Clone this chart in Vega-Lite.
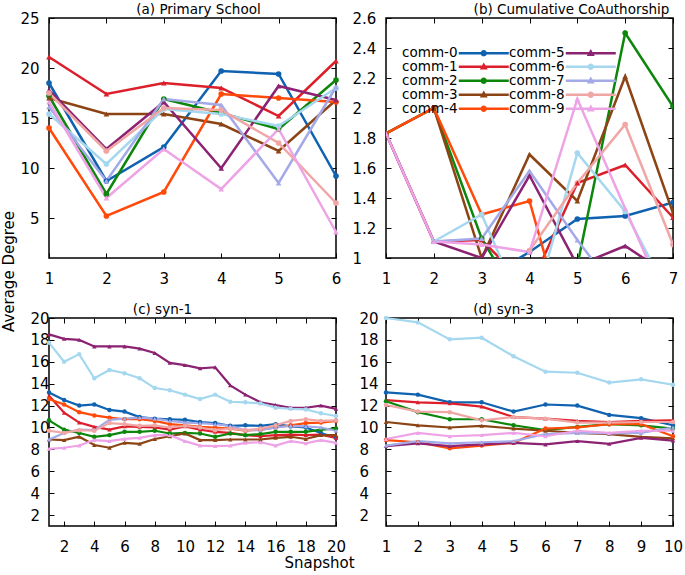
{
  "$schema": "https://vega.github.io/schema/vega-lite/v6.json",
  "background": "white",
  "padding": {"left": 0, "top": 1, "right": 5, "bottom": 5},
  "columns": 2,
  "spacing": {"row": 60, "column": 50},
  "bounds": "flush",
  "resolve": {
    "scale": {"x": "independent", "y": "independent", "color": "independent", "shape": "independent"},
    "axis": {"x": "independent", "y": "independent"},
    "legend": {"color": "independent", "shape": "independent"}
  },
  "config": {
    "font": "DejaVu Sans",
    "view": {"stroke": "black", "strokeWidth": 1.5},
    "axis": {
      "domain": false, "grid": false, "tickColor": "black", "tickSize": -5, "tickWidth": 1,
      "labelFont": "DejaVu Sans", "labelFontSize": 15, "labelColor": "black",
      "labelFlush": false, "labelOverlap": false,
      "titleFont": "DejaVu Sans", "titleFontSize": 15, "titleFontWeight": "normal", "titleColor": "black"
    },
    "title": {"font": "DejaVu Sans", "fontSize": 13.5, "fontWeight": "normal", "color": "black", "offset": -5}
  },
  "datasets": {
    "a": [
      {"comm":"comm-0","x":1,"y":18.5},{"comm":"comm-0","x":2,"y":8.7},{"comm":"comm-0","x":3,"y":12.1},{"comm":"comm-0","x":4,"y":19.7},{"comm":"comm-0","x":5,"y":19.4},{"comm":"comm-0","x":6,"y":9.2},
      {"comm":"comm-1","x":1,"y":21.1},{"comm":"comm-1","x":2,"y":17.4},{"comm":"comm-1","x":3,"y":18.5},{"comm":"comm-1","x":4,"y":18.0},{"comm":"comm-1","x":5,"y":15.2},{"comm":"comm-1","x":6,"y":20.7},
      {"comm":"comm-2","x":1,"y":17.2},{"comm":"comm-2","x":2,"y":7.4},{"comm":"comm-2","x":3,"y":16.9},{"comm":"comm-2","x":4,"y":15.5},{"comm":"comm-2","x":5,"y":13.9},{"comm":"comm-2","x":6,"y":18.8},
      {"comm":"comm-3","x":1,"y":17.0},{"comm":"comm-3","x":2,"y":15.4},{"comm":"comm-3","x":3,"y":15.4},{"comm":"comm-3","x":4,"y":14.4},{"comm":"comm-3","x":5,"y":11.7},{"comm":"comm-3","x":6,"y":16.8},
      {"comm":"comm-4","x":1,"y":14.0},{"comm":"comm-4","x":2,"y":5.2},{"comm":"comm-4","x":3,"y":7.6},{"comm":"comm-4","x":4,"y":17.4},{"comm":"comm-4","x":5,"y":17.0},{"comm":"comm-4","x":6,"y":16.6},
      {"comm":"comm-5","x":1,"y":17.8},{"comm":"comm-5","x":2,"y":11.9},{"comm":"comm-5","x":3,"y":16.6},{"comm":"comm-5","x":4,"y":9.97},{"comm":"comm-5","x":5,"y":18.2},{"comm":"comm-5","x":6,"y":16.8},
      {"comm":"comm-6","x":1,"y":15.4},{"comm":"comm-6","x":2,"y":10.4},{"comm":"comm-6","x":3,"y":15.9},{"comm":"comm-6","x":4,"y":15.4},{"comm":"comm-6","x":5,"y":14.2},{"comm":"comm-6","x":6,"y":18.0},
      {"comm":"comm-7","x":1,"y":16.1},{"comm":"comm-7","x":2,"y":8.7},{"comm":"comm-7","x":3,"y":16.9},{"comm":"comm-7","x":4,"y":16.3},{"comm":"comm-7","x":5,"y":8.5},{"comm":"comm-7","x":6,"y":18.1},
      {"comm":"comm-8","x":1,"y":17.5},{"comm":"comm-8","x":2,"y":11.7},{"comm":"comm-8","x":3,"y":16.0},{"comm":"comm-8","x":4,"y":15.8},{"comm":"comm-8","x":5,"y":12.5},{"comm":"comm-8","x":6,"y":6.5},
      {"comm":"comm-9","x":1,"y":16.6},{"comm":"comm-9","x":2,"y":7.0},{"comm":"comm-9","x":3,"y":11.9},{"comm":"comm-9","x":4,"y":7.9},{"comm":"comm-9","x":5,"y":13.9},{"comm":"comm-9","x":6,"y":3.6}
    ],
    "b": [
      {"comm":"comm-0","x":3,"y":0.85},{"comm":"comm-0","x":4,"y":1.04},{"comm":"comm-0","x":5,"y":1.26},{"comm":"comm-0","x":6,"y":1.28},{"comm":"comm-0","x":7,"y":1.37},
      {"comm":"comm-1","x":1,"y":1.83},{"comm":"comm-1","x":2,"y":1.11},{"comm":"comm-1","x":3,"y":1.12},{"comm":"comm-1","x":4,"y":0.8},{"comm":"comm-1","x":5,"y":1.5},{"comm":"comm-1","x":6,"y":1.62},{"comm":"comm-1","x":7,"y":1.27},
      {"comm":"comm-2","x":1,"y":1.83},{"comm":"comm-2","x":2,"y":2.0},{"comm":"comm-2","x":3,"y":1.13},{"comm":"comm-2","x":4,"y":0.6},{"comm":"comm-2","x":5,"y":0.95},{"comm":"comm-2","x":6,"y":2.5},{"comm":"comm-2","x":7,"y":2.01},
      {"comm":"comm-3","x":1,"y":1.83},{"comm":"comm-3","x":2,"y":2.0},{"comm":"comm-3","x":3,"y":1.0},{"comm":"comm-3","x":4,"y":1.69},{"comm":"comm-3","x":5,"y":1.38},{"comm":"comm-3","x":6,"y":2.21},{"comm":"comm-3","x":7,"y":1.3},
      {"comm":"comm-4","x":1,"y":1.83},{"comm":"comm-4","x":2,"y":2.0},{"comm":"comm-4","x":3,"y":1.29},{"comm":"comm-4","x":4,"y":1.38},{"comm":"comm-4","x":5,"y":0.25},
      {"comm":"comm-5","x":1,"y":1.83},{"comm":"comm-5","x":2,"y":1.11},{"comm":"comm-5","x":3,"y":1.0},{"comm":"comm-5","x":4,"y":1.55},{"comm":"comm-5","x":5,"y":0.95},{"comm":"comm-5","x":6,"y":1.08},{"comm":"comm-5","x":7,"y":0.87},
      {"comm":"comm-6","x":2,"y":1.11},{"comm":"comm-6","x":3,"y":1.29},{"comm":"comm-6","x":4,"y":0.56},{"comm":"comm-6","x":5,"y":1.7},{"comm":"comm-6","x":6,"y":1.31},{"comm":"comm-6","x":7,"y":0.7},
      {"comm":"comm-7","x":2,"y":1.11},{"comm":"comm-7","x":3,"y":1.13},{"comm":"comm-7","x":4,"y":1.58},{"comm":"comm-7","x":5,"y":1.12},{"comm":"comm-7","x":6,"y":0.7},
      {"comm":"comm-8","x":4,"y":1.05},{"comm":"comm-8","x":5,"y":1.5},{"comm":"comm-8","x":6,"y":1.89},{"comm":"comm-8","x":7,"y":1.09},
      {"comm":"comm-9","x":1,"y":1.83},{"comm":"comm-9","x":2,"y":1.11},{"comm":"comm-9","x":3,"y":1.09},{"comm":"comm-9","x":4,"y":1.04},{"comm":"comm-9","x":5,"y":2.06},{"comm":"comm-9","x":6,"y":1.33},{"comm":"comm-9","x":7,"y":0.6}
    ],
    "c": [
      {"comm":"comm-0","x":1,"y":13.2},{"comm":"comm-0","x":2,"y":12.5},{"comm":"comm-0","x":3,"y":12.0},{"comm":"comm-0","x":4,"y":12.1},{"comm":"comm-0","x":5,"y":11.6},{"comm":"comm-0","x":6,"y":11.45},{"comm":"comm-0","x":7,"y":10.95},{"comm":"comm-0","x":8,"y":10.8},{"comm":"comm-0","x":9,"y":10.75},{"comm":"comm-0","x":10,"y":10.7},{"comm":"comm-0","x":11,"y":10.5},{"comm":"comm-0","x":12,"y":10.4},{"comm":"comm-0","x":13,"y":10.15},{"comm":"comm-0","x":14,"y":10.2},{"comm":"comm-0","x":15,"y":10.15},{"comm":"comm-0","x":16,"y":10.3},{"comm":"comm-0","x":17,"y":10.1},{"comm":"comm-0","x":18,"y":10.0},{"comm":"comm-0","x":19,"y":9.5},{"comm":"comm-0","x":20,"y":9.05},
      {"comm":"comm-1","x":1,"y":12.9},{"comm":"comm-1","x":2,"y":11.35},{"comm":"comm-1","x":3,"y":10.45},{"comm":"comm-1","x":4,"y":10.05},{"comm":"comm-1","x":5,"y":9.8},{"comm":"comm-1","x":6,"y":10.1},{"comm":"comm-1","x":7,"y":10.05},{"comm":"comm-1","x":8,"y":10.0},{"comm":"comm-1","x":9,"y":9.8},{"comm":"comm-1","x":10,"y":10.1},{"comm":"comm-1","x":11,"y":9.8},{"comm":"comm-1","x":12,"y":9.6},{"comm":"comm-1","x":13,"y":9.5},{"comm":"comm-1","x":14,"y":9.3},{"comm":"comm-1","x":15,"y":9.2},{"comm":"comm-1","x":16,"y":9.3},{"comm":"comm-1","x":17,"y":9.35},{"comm":"comm-1","x":18,"y":9.3},{"comm":"comm-1","x":19,"y":9.35},{"comm":"comm-1","x":20,"y":9.05},
      {"comm":"comm-2","x":1,"y":10.65},{"comm":"comm-2","x":2,"y":9.8},{"comm":"comm-2","x":3,"y":9.5},{"comm":"comm-2","x":4,"y":9.15},{"comm":"comm-2","x":5,"y":9.3},{"comm":"comm-2","x":6,"y":9.6},{"comm":"comm-2","x":7,"y":9.6},{"comm":"comm-2","x":8,"y":9.7},{"comm":"comm-2","x":9,"y":9.45},{"comm":"comm-2","x":10,"y":9.5},{"comm":"comm-2","x":11,"y":9.45},{"comm":"comm-2","x":12,"y":9.15},{"comm":"comm-2","x":13,"y":9.45},{"comm":"comm-2","x":14,"y":9.3},{"comm":"comm-2","x":15,"y":9.4},{"comm":"comm-2","x":16,"y":9.6},{"comm":"comm-2","x":17,"y":9.6},{"comm":"comm-2","x":18,"y":9.6},{"comm":"comm-2","x":19,"y":9.8},{"comm":"comm-2","x":20,"y":9.9},
      {"comm":"comm-3","x":1,"y":8.9},{"comm":"comm-3","x":2,"y":8.85},{"comm":"comm-3","x":3,"y":9.15},{"comm":"comm-3","x":4,"y":8.4},{"comm":"comm-3","x":5,"y":8.15},{"comm":"comm-3","x":6,"y":8.6},{"comm":"comm-3","x":7,"y":8.5},{"comm":"comm-3","x":8,"y":8.95},{"comm":"comm-3","x":9,"y":9.2},{"comm":"comm-3","x":10,"y":9.45},{"comm":"comm-3","x":11,"y":8.85},{"comm":"comm-3","x":12,"y":8.85},{"comm":"comm-3","x":13,"y":8.9},{"comm":"comm-3","x":14,"y":8.9},{"comm":"comm-3","x":15,"y":8.9},{"comm":"comm-3","x":16,"y":9.05},{"comm":"comm-3","x":17,"y":9.15},{"comm":"comm-3","x":18,"y":8.95},{"comm":"comm-3","x":19,"y":9.3},{"comm":"comm-3","x":20,"y":9.3},
      {"comm":"comm-4","x":1,"y":12.6},{"comm":"comm-4","x":2,"y":12.1},{"comm":"comm-4","x":3,"y":11.4},{"comm":"comm-4","x":4,"y":11.1},{"comm":"comm-4","x":5,"y":10.9},{"comm":"comm-4","x":6,"y":10.75},{"comm":"comm-4","x":7,"y":10.75},{"comm":"comm-4","x":8,"y":10.6},{"comm":"comm-4","x":9,"y":10.3},{"comm":"comm-4","x":10,"y":10.2},{"comm":"comm-4","x":11,"y":10.05},{"comm":"comm-4","x":12,"y":10.0},{"comm":"comm-4","x":13,"y":9.9},{"comm":"comm-4","x":14,"y":9.7},{"comm":"comm-4","x":15,"y":9.8},{"comm":"comm-4","x":16,"y":10.0},{"comm":"comm-4","x":17,"y":10.2},{"comm":"comm-4","x":18,"y":10.4},{"comm":"comm-4","x":19,"y":10.45},{"comm":"comm-4","x":20,"y":10.6},
      {"comm":"comm-5","x":1,"y":18.5},{"comm":"comm-5","x":2,"y":18.1},{"comm":"comm-5","x":3,"y":18.0},{"comm":"comm-5","x":4,"y":17.4},{"comm":"comm-5","x":5,"y":17.4},{"comm":"comm-5","x":6,"y":17.4},{"comm":"comm-5","x":7,"y":17.2},{"comm":"comm-5","x":8,"y":16.8},{"comm":"comm-5","x":9,"y":15.9},{"comm":"comm-5","x":10,"y":15.7},{"comm":"comm-5","x":11,"y":15.4},{"comm":"comm-5","x":12,"y":15.5},{"comm":"comm-5","x":13,"y":13.85},{"comm":"comm-5","x":14,"y":13.0},{"comm":"comm-5","x":15,"y":12.3},{"comm":"comm-5","x":16,"y":12.05},{"comm":"comm-5","x":17,"y":11.8},{"comm":"comm-5","x":18,"y":11.8},{"comm":"comm-5","x":19,"y":12.0},{"comm":"comm-5","x":20,"y":11.7},
      {"comm":"comm-6","x":1,"y":17.75},{"comm":"comm-6","x":2,"y":16.0},{"comm":"comm-6","x":3,"y":16.7},{"comm":"comm-6","x":4,"y":14.5},{"comm":"comm-6","x":5,"y":15.25},{"comm":"comm-6","x":6,"y":14.95},{"comm":"comm-6","x":7,"y":14.5},{"comm":"comm-6","x":8,"y":13.6},{"comm":"comm-6","x":9,"y":13.4},{"comm":"comm-6","x":10,"y":13.0},{"comm":"comm-6","x":11,"y":12.6},{"comm":"comm-6","x":12,"y":13.0},{"comm":"comm-6","x":13,"y":12.35},{"comm":"comm-6","x":14,"y":12.3},{"comm":"comm-6","x":15,"y":12.2},{"comm":"comm-6","x":16,"y":11.8},{"comm":"comm-6","x":17,"y":11.7},{"comm":"comm-6","x":18,"y":11.65},{"comm":"comm-6","x":19,"y":11.3},{"comm":"comm-6","x":20,"y":11.05},
      {"comm":"comm-7","x":1,"y":8.9},{"comm":"comm-7","x":2,"y":9.5},{"comm":"comm-7","x":3,"y":9.8},{"comm":"comm-7","x":4,"y":9.75},{"comm":"comm-7","x":5,"y":10.7},{"comm":"comm-7","x":6,"y":10.8},{"comm":"comm-7","x":7,"y":10.9},{"comm":"comm-7","x":8,"y":10.8},{"comm":"comm-7","x":9,"y":10.6},{"comm":"comm-7","x":10,"y":10.45},{"comm":"comm-7","x":11,"y":10.4},{"comm":"comm-7","x":12,"y":10.3},{"comm":"comm-7","x":13,"y":10.15},{"comm":"comm-7","x":14,"y":9.75},{"comm":"comm-7","x":15,"y":9.75},{"comm":"comm-7","x":16,"y":10.0},{"comm":"comm-7","x":17,"y":10.15},{"comm":"comm-7","x":18,"y":10.1},{"comm":"comm-7","x":19,"y":10.0},{"comm":"comm-7","x":20,"y":9.7},
      {"comm":"comm-8","x":1,"y":9.7},{"comm":"comm-8","x":2,"y":9.5},{"comm":"comm-8","x":3,"y":9.75},{"comm":"comm-8","x":4,"y":9.7},{"comm":"comm-8","x":5,"y":10.4},{"comm":"comm-8","x":6,"y":10.3},{"comm":"comm-8","x":7,"y":10.15},{"comm":"comm-8","x":8,"y":10.2},{"comm":"comm-8","x":9,"y":10.0},{"comm":"comm-8","x":10,"y":10.15},{"comm":"comm-8","x":11,"y":10.0},{"comm":"comm-8","x":12,"y":9.75},{"comm":"comm-8","x":13,"y":9.9},{"comm":"comm-8","x":14,"y":9.75},{"comm":"comm-8","x":15,"y":9.9},{"comm":"comm-8","x":16,"y":10.2},{"comm":"comm-8","x":17,"y":10.6},{"comm":"comm-8","x":18,"y":10.75},{"comm":"comm-8","x":19,"y":10.6},{"comm":"comm-8","x":20,"y":10.65},
      {"comm":"comm-9","x":1,"y":8.05},{"comm":"comm-9","x":2,"y":8.15},{"comm":"comm-9","x":3,"y":8.35},{"comm":"comm-9","x":4,"y":8.85},{"comm":"comm-9","x":5,"y":8.75},{"comm":"comm-9","x":6,"y":8.95},{"comm":"comm-9","x":7,"y":9.05},{"comm":"comm-9","x":8,"y":9.3},{"comm":"comm-9","x":9,"y":9.3},{"comm":"comm-9","x":10,"y":8.75},{"comm":"comm-9","x":11,"y":8.35},{"comm":"comm-9","x":12,"y":8.3},{"comm":"comm-9","x":13,"y":8.35},{"comm":"comm-9","x":14,"y":8.6},{"comm":"comm-9","x":15,"y":8.65},{"comm":"comm-9","x":16,"y":8.35},{"comm":"comm-9","x":17,"y":8.75},{"comm":"comm-9","x":18,"y":8.55},{"comm":"comm-9","x":19,"y":8.85},{"comm":"comm-9","x":20,"y":8.6}
    ],
    "d": [
      {"comm":"comm-0","x":1,"y":13.2},{"comm":"comm-0","x":2,"y":13.0},{"comm":"comm-0","x":3,"y":12.3},{"comm":"comm-0","x":4,"y":12.3},{"comm":"comm-0","x":5,"y":11.45},{"comm":"comm-0","x":6,"y":12.1},{"comm":"comm-0","x":7,"y":12.0},{"comm":"comm-0","x":8,"y":11.15},{"comm":"comm-0","x":9,"y":10.85},{"comm":"comm-0","x":10,"y":10.2},
      {"comm":"comm-1","x":1,"y":12.5},{"comm":"comm-1","x":2,"y":12.3},{"comm":"comm-1","x":3,"y":12.2},{"comm":"comm-1","x":4,"y":11.9},{"comm":"comm-1","x":5,"y":10.95},{"comm":"comm-1","x":6,"y":10.8},{"comm":"comm-1","x":7,"y":10.6},{"comm":"comm-1","x":8,"y":10.5},{"comm":"comm-1","x":9,"y":10.6},{"comm":"comm-1","x":10,"y":10.65},
      {"comm":"comm-2","x":1,"y":12.4},{"comm":"comm-2","x":2,"y":11.4},{"comm":"comm-2","x":3,"y":10.75},{"comm":"comm-2","x":4,"y":10.75},{"comm":"comm-2","x":5,"y":10.2},{"comm":"comm-2","x":6,"y":9.75},{"comm":"comm-2","x":7,"y":10.05},{"comm":"comm-2","x":8,"y":10.3},{"comm":"comm-2","x":9,"y":10.2},{"comm":"comm-2","x":10,"y":9.9},
      {"comm":"comm-3","x":1,"y":10.5},{"comm":"comm-3","x":2,"y":10.2},{"comm":"comm-3","x":3,"y":10.0},{"comm":"comm-3","x":4,"y":10.15},{"comm":"comm-3","x":5,"y":9.9},{"comm":"comm-3","x":6,"y":9.7},{"comm":"comm-3","x":7,"y":9.5},{"comm":"comm-3","x":8,"y":9.4},{"comm":"comm-3","x":9,"y":9.15},{"comm":"comm-3","x":10,"y":9.0},
      {"comm":"comm-4","x":1,"y":8.85},{"comm":"comm-4","x":2,"y":8.65},{"comm":"comm-4","x":3,"y":8.1},{"comm":"comm-4","x":4,"y":8.35},{"comm":"comm-4","x":5,"y":8.6},{"comm":"comm-4","x":6,"y":9.9},{"comm":"comm-4","x":7,"y":10.0},{"comm":"comm-4","x":8,"y":10.3},{"comm":"comm-4","x":9,"y":10.3},{"comm":"comm-4","x":10,"y":9.2},
      {"comm":"comm-5","x":1,"y":8.3},{"comm":"comm-5","x":2,"y":8.55},{"comm":"comm-5","x":3,"y":8.3},{"comm":"comm-5","x":4,"y":8.45},{"comm":"comm-5","x":5,"y":8.6},{"comm":"comm-5","x":6,"y":8.45},{"comm":"comm-5","x":7,"y":8.75},{"comm":"comm-5","x":8,"y":8.5},{"comm":"comm-5","x":9,"y":9.05},{"comm":"comm-5","x":10,"y":8.8},
      {"comm":"comm-6","x":1,"y":20.0},{"comm":"comm-6","x":2,"y":19.6},{"comm":"comm-6","x":3,"y":18.05},{"comm":"comm-6","x":4,"y":18.2},{"comm":"comm-6","x":5,"y":16.5},{"comm":"comm-6","x":6,"y":15.1},{"comm":"comm-6","x":7,"y":15.0},{"comm":"comm-6","x":8,"y":14.1},{"comm":"comm-6","x":9,"y":14.4},{"comm":"comm-6","x":10,"y":13.9},
      {"comm":"comm-7","x":1,"y":8.35},{"comm":"comm-7","x":2,"y":8.75},{"comm":"comm-7","x":3,"y":8.55},{"comm":"comm-7","x":4,"y":8.65},{"comm":"comm-7","x":5,"y":8.75},{"comm":"comm-7","x":6,"y":9.4},{"comm":"comm-7","x":7,"y":9.5},{"comm":"comm-7","x":8,"y":9.45},{"comm":"comm-7","x":9,"y":9.5},{"comm":"comm-7","x":10,"y":10.0},
      {"comm":"comm-8","x":1,"y":12.05},{"comm":"comm-8","x":2,"y":11.45},{"comm":"comm-8","x":3,"y":11.4},{"comm":"comm-8","x":4,"y":10.65},{"comm":"comm-8","x":5,"y":10.95},{"comm":"comm-8","x":6,"y":10.8},{"comm":"comm-8","x":7,"y":10.45},{"comm":"comm-8","x":8,"y":10.45},{"comm":"comm-8","x":9,"y":10.5},{"comm":"comm-8","x":10,"y":10.5},
      {"comm":"comm-9","x":1,"y":8.95},{"comm":"comm-9","x":2,"y":9.5},{"comm":"comm-9","x":3,"y":9.2},{"comm":"comm-9","x":4,"y":9.3},{"comm":"comm-9","x":5,"y":9.5},{"comm":"comm-9","x":6,"y":9.2},{"comm":"comm-9","x":7,"y":9.7},{"comm":"comm-9","x":8,"y":9.5},{"comm":"comm-9","x":9,"y":9.7},{"comm":"comm-9","x":10,"y":9.7}
    ]
  },
  "concat": [
    {
      "width": 287, "height": 240,
      "title": {"text": "(a) Primary School", "dx": 6},
      "data": {"name": "a"},
      "encoding": {
        "color": {"field": "comm", "type": "nominal", "legend": null,
          "scale": {"domain": ["comm-0","comm-1","comm-2","comm-3","comm-4","comm-5","comm-6","comm-7","comm-8","comm-9"], "range": ["#0f62b0","#dc1f2a","#0c870c","#8c4415","#ff4a0a","#8b2272","#a5d8ef","#a4a9e8","#f1a6a6","#eda3e6"]}}
      },
      "layer": [
        {"mark": {"type": "line", "strokeWidth": 2.5},
         "encoding": {
           "x": {"field": "x", "type": "quantitative", "title": null, "scale": {"domain": [1, 6], "nice": false, "zero": false}, "axis": {"values": [1, 2, 3, 4, 5, 6], "labelPadding": 18, "format": "d"}},
           "y": {"field": "y", "type": "quantitative", "title": "Average Degree", "scale": {"domain": [1, 25], "nice": false, "zero": false}, "axis": {"values": [5, 10, 15, 20, 25], "labelAlign": "right", "labelPadding": 15, "format": "d", "titleX": -36, "titleY": 253, "titleAlign": "center", "titleBaseline": "alphabetic", "titleAngle": 270}}}},
        {"mark": {"type": "point", "filled": true, "size": 32, "opacity": 1},
         "encoding": {
           "x": {"field": "x", "type": "quantitative", "axis": null},
           "y": {"field": "y", "type": "quantitative", "axis": null},
           "shape": {"field": "comm", "type": "nominal", "legend": null, "scale": {"domain": ["comm-0","comm-1","comm-2","comm-3","comm-4","comm-5","comm-6","comm-7","comm-8","comm-9"], "range": ["circle","triangle-up","circle","triangle-up","circle","triangle-up","circle","triangle-up","circle","triangle-up"]}}}},
        {"mark": {"type": "point", "opacity": 0},
         "encoding": {
           "x": {"field": "x", "type": "quantitative", "title": null, "axis": {"orient": "top", "values": [1, 2, 3, 4, 5, 6], "labels": false}},
           "y": {"field": "y", "type": "quantitative", "title": null, "axis": {"orient": "right", "values": [5, 10, 15, 20, 25], "labels": false}}}}
      ],
      "resolve": {"axis": {"x": "independent", "y": "independent"}}
    },
    {
      "width": 287, "height": 240,
      "title": {"text": "(b) Cumulative CoAuthorship", "dx": 42},
      "data": {"name": "b"},
      "encoding": {
        "color": {"field": "comm", "type": "nominal",
          "scale": {"domain": ["comm-0","comm-1","comm-2","comm-3","comm-4","comm-5","comm-6","comm-7","comm-8","comm-9"], "range": ["#0f62b0","#dc1f2a","#0c870c","#8c4415","#ff4a0a","#8b2272","#a5d8ef","#a4a9e8","#f1a6a6","#eda3e6"]},
          "legend": {
            "orient": "none", "legendX": 91, "legendY": 28, "columns": 2, "title": null,
            "labelAlign": "right", "labelOffset": -33, "labelFont": "DejaVu Sans", "labelFontSize": 13.5, "labelColor": "black",
            "symbolSize": 100, "symbolOpacity": 1, "symbolStrokeWidth": 0, "symbolOffset": 0, "rowPadding": -2.5, "columnPadding": 0
          }}
      },
      "layer": [
        {"mark": {"type": "line", "strokeWidth": 2.5, "clip": true},
         "encoding": {
           "x": {"field": "x", "type": "quantitative", "title": null, "scale": {"domain": [1, 7], "nice": false, "zero": false}, "axis": {"values": [1, 2, 3, 4, 5, 6, 7], "labelPadding": 18, "format": "d"}},
           "y": {"field": "y", "type": "quantitative", "title": null, "scale": {"domain": [1, 2.6], "nice": false, "zero": false}, "axis": {"values": [1, 1.2, 1.4, 1.6, 1.8, 2, 2.2, 2.4, 2.6], "labelAlign": "left", "labelPadding": 39, "format": ".1~f"}}}},
        {"transform": [{"filter": {"field": "comm", "oneOf": ["comm-0","comm-2","comm-4","comm-6","comm-8"]}}],
         "mark": {"type": "point", "filled": true, "size": 32, "opacity": 1, "clip": true, "shape": "circle"},
         "encoding": {
           "x": {"field": "x", "type": "quantitative", "axis": null},
           "y": {"field": "y", "type": "quantitative", "axis": null}}},
        {"transform": [{"filter": {"field": "comm", "oneOf": ["comm-1","comm-3","comm-5","comm-7","comm-9"]}}],
         "mark": {"type": "point", "filled": true, "size": 32, "opacity": 1, "clip": true, "shape": "triangle-up"},
         "encoding": {
           "x": {"field": "x", "type": "quantitative", "axis": null},
           "y": {"field": "y", "type": "quantitative", "axis": null}}},
        {"mark": {"type": "point", "opacity": 0, "clip": true},
         "encoding": {
           "x": {"field": "x", "type": "quantitative", "title": null, "axis": {"orient": "top", "values": [1, 2, 3, 4, 5, 6, 7], "labels": false}},
           "y": {"field": "y", "type": "quantitative", "title": null, "axis": {"orient": "right", "values": [1, 1.2, 1.4, 1.6, 1.8, 2, 2.2, 2.4, 2.6], "labels": false}}}},
        {"mark": {"type": "point", "filled": true, "opacity": 0, "clip": true},
         "encoding": {
           "x": {"field": "x", "type": "quantitative", "axis": null},
           "y": {"field": "y", "type": "quantitative", "axis": null},
           "shape": {"field": "comm", "type": "nominal",
             "scale": {"domain": ["comm-0","comm-1","comm-2","comm-3","comm-4","comm-5","comm-6","comm-7","comm-8","comm-9"],
               "range": [
                 "M-5,-0.25L5,-0.25L5,0.25L-5,0.25ZM0.64,0A0.64,0.64,0,1,1,-0.64,0A0.64,0.64,0,1,1,0.64,0Z",
                 "M-5,-0.25L5,-0.25L5,0.25L-5,0.25ZM0,-0.85L0.8,0.55L-0.8,0.55Z",
                 "M-5,-0.25L5,-0.25L5,0.25L-5,0.25ZM0.64,0A0.64,0.64,0,1,1,-0.64,0A0.64,0.64,0,1,1,0.64,0Z",
                 "M-5,-0.25L5,-0.25L5,0.25L-5,0.25ZM0,-0.85L0.8,0.55L-0.8,0.55Z",
                 "M-5,-0.25L5,-0.25L5,0.25L-5,0.25ZM0.64,0A0.64,0.64,0,1,1,-0.64,0A0.64,0.64,0,1,1,0.64,0Z",
                 "M-5,-0.25L5,-0.25L5,0.25L-5,0.25ZM0,-0.85L0.8,0.55L-0.8,0.55Z",
                 "M-5,-0.25L5,-0.25L5,0.25L-5,0.25ZM0.64,0A0.64,0.64,0,1,1,-0.64,0A0.64,0.64,0,1,1,0.64,0Z",
                 "M-5,-0.25L5,-0.25L5,0.25L-5,0.25ZM0,-0.85L0.8,0.55L-0.8,0.55Z",
                 "M-5,-0.25L5,-0.25L5,0.25L-5,0.25ZM0.64,0A0.64,0.64,0,1,1,-0.64,0A0.64,0.64,0,1,1,0.64,0Z",
                 "M-5,-0.25L5,-0.25L5,0.25L-5,0.25ZM0,-0.85L0.8,0.55L-0.8,0.55Z"]},
             "legend": {
               "orient": "none", "legendX": 91, "legendY": 28, "columns": 2, "title": null,
               "labelAlign": "right", "labelOffset": -33, "labelFont": "DejaVu Sans", "labelFontSize": 13.5, "labelColor": "black",
               "symbolSize": 100, "symbolOpacity": 1, "symbolStrokeWidth": 0, "symbolOffset": 0, "rowPadding": -2.5, "columnPadding": 0
             }}}}
      ],
      "resolve": {"axis": {"x": "independent", "y": "independent"}}
    },
    {
      "width": 287, "height": 208,
      "title": {"text": "(c) syn-1", "dx": -30},
      "data": {"name": "c"},
      "encoding": {
        "color": {"field": "comm", "type": "nominal", "legend": null,
          "scale": {"domain": ["comm-0","comm-1","comm-2","comm-3","comm-4","comm-5","comm-6","comm-7","comm-8","comm-9"], "range": ["#0f62b0","#dc1f2a","#0c870c","#8c4415","#ff4a0a","#8b2272","#a5d8ef","#a4a9e8","#f1a6a6","#eda3e6"]}}
      },
      "layer": [
        {"mark": {"type": "line", "strokeWidth": 2.2},
         "encoding": {
           "x": {"field": "x", "type": "quantitative", "title": "Snapshot", "scale": {"domain": [1, 20], "nice": false, "zero": false}, "axis": {"values": [2, 4, 6, 8, 10, 12, 14, 16, 18, 20], "labelPadding": 18, "format": "d", "titleX": 270, "titleY": 41, "titleAlign": "center", "titleBaseline": "alphabetic"}},
           "y": {"field": "y", "type": "quantitative", "title": null, "scale": {"domain": [1, 20], "nice": false, "zero": false}, "axis": {"values": [2, 4, 6, 8, 10, 12, 14, 16, 18, 20], "labelAlign": "left", "labelPadding": 24, "format": "d"}}}},
        {"mark": {"type": "point", "filled": true, "size": 20, "opacity": 1},
         "encoding": {
           "x": {"field": "x", "type": "quantitative", "axis": null},
           "y": {"field": "y", "type": "quantitative", "axis": null},
           "shape": {"field": "comm", "type": "nominal", "legend": null, "scale": {"domain": ["comm-0","comm-1","comm-2","comm-3","comm-4","comm-5","comm-6","comm-7","comm-8","comm-9"], "range": ["circle","triangle-up","circle","triangle-up","circle","triangle-up","circle","triangle-up","circle","triangle-up"]}}}},
        {"mark": {"type": "point", "opacity": 0},
         "encoding": {
           "x": {"field": "x", "type": "quantitative", "title": null, "axis": {"orient": "top", "values": [2, 4, 6, 8, 10, 12, 14, 16, 18, 20], "labels": false}},
           "y": {"field": "y", "type": "quantitative", "title": null, "axis": {"orient": "right", "values": [2, 4, 6, 8, 10, 12, 14, 16, 18, 20], "labels": false}}}}
      ],
      "resolve": {"axis": {"x": "independent", "y": "independent"}}
    },
    {
      "width": 287, "height": 208,
      "title": {"text": "(d) syn-3", "dx": -26},
      "data": {"name": "d"},
      "encoding": {
        "color": {"field": "comm", "type": "nominal", "legend": null,
          "scale": {"domain": ["comm-0","comm-1","comm-2","comm-3","comm-4","comm-5","comm-6","comm-7","comm-8","comm-9"], "range": ["#0f62b0","#dc1f2a","#0c870c","#8c4415","#ff4a0a","#8b2272","#a5d8ef","#a4a9e8","#f1a6a6","#eda3e6"]}}
      },
      "layer": [
        {"mark": {"type": "line", "strokeWidth": 2.2},
         "encoding": {
           "x": {"field": "x", "type": "quantitative", "title": null, "scale": {"domain": [1, 10], "nice": false, "zero": false}, "axis": {"values": [1, 2, 3, 4, 5, 6, 7, 8, 9, 10], "labelPadding": 18, "format": "d"}},
           "y": {"field": "y", "type": "quantitative", "title": null, "scale": {"domain": [1, 20], "nice": false, "zero": false}, "axis": {"values": [2, 4, 6, 8, 10, 12, 14, 16, 18, 20], "labelAlign": "left", "labelPadding": 32, "format": "d"}}}},
        {"mark": {"type": "point", "filled": true, "size": 20, "opacity": 1},
         "encoding": {
           "x": {"field": "x", "type": "quantitative", "axis": null},
           "y": {"field": "y", "type": "quantitative", "axis": null},
           "shape": {"field": "comm", "type": "nominal", "legend": null, "scale": {"domain": ["comm-0","comm-1","comm-2","comm-3","comm-4","comm-5","comm-6","comm-7","comm-8","comm-9"], "range": ["circle","triangle-up","circle","triangle-up","circle","triangle-up","circle","triangle-up","circle","triangle-up"]}}}},
        {"mark": {"type": "point", "opacity": 0},
         "encoding": {
           "x": {"field": "x", "type": "quantitative", "title": null, "axis": {"orient": "top", "values": [1, 2, 3, 4, 5, 6, 7, 8, 9, 10], "labels": false}},
           "y": {"field": "y", "type": "quantitative", "title": null, "axis": {"orient": "right", "values": [2, 4, 6, 8, 10, 12, 14, 16, 18, 20], "labels": false}}}}
      ],
      "resolve": {"axis": {"x": "independent", "y": "independent"}}
    }
  ]
}
